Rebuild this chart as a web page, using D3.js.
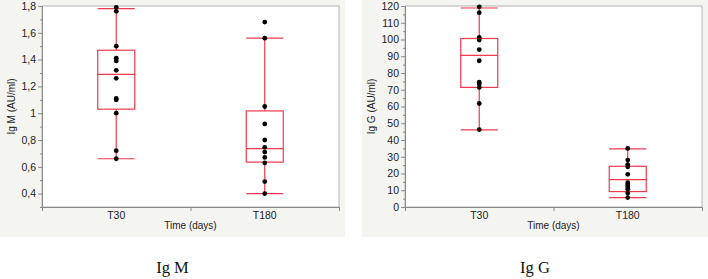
<!DOCTYPE html>
<html>
<head>
<meta charset="utf-8">
<script src="https://cdn.jsdelivr.net/npm/d3@7"></script>
<style>
  body { margin: 0; background: #fff; }
  svg { display: block; }
</style>
</head>
<body>
<svg id="chart" width="708" height="279"></svg>
<script>
// categories on x
const groups = ['T30', 'T180']

// Ig M raw points (AU/ml)
const igmT30 = [1.79, 1.76, 1.50, 1.41, 1.39, 1.32, 1.26, 1.11, 1.10, 1.00, 0.72, 0.66]
const igmT180 = [1.68, 1.56, 1.05, 0.92, 0.80, 0.745, 0.71, 0.67, 0.63, 0.49, 0.40]
// box stats [low whisker, q1, median, q3, high whisker]
const igmBoxT30 = [0.66, 1.03, 1.29, 1.47, 1.78]
const igmBoxT180 = [0.40, 0.635, 0.735, 1.017, 1.56]
const igmTicks = [0.4, 0.6, 0.8, 1, 1.2, 1.4, 1.6, 1.8]
const igmMinor = [0.3, 0.5, 0.7, 0.9, 1.1, 1.3, 1.5, 1.7]

// Ig G raw points (AU/ml)
const iggT30 = [119.5, 116, 101.3, 99.7, 94, 87.3, 74.5, 73.4, 71.4, 61.8, 46.2]
const iggT180 = [35, 28, 25.3, 24, 19.5, 14.5, 13.3, 12, 10.6, 8.3, 5.6]
const iggBoxT30 = [46, 71.4, 90.5, 100.6, 118.8]
const iggBoxT180 = [5.6, 9.2, 16.4, 24.3, 34.7]
const iggTicks = [0, 10, 20, 30, 40, 50, 60, 70, 80, 90, 100, 110, 120]
const iggMinor = [5, 15, 25, 35, 45, 55, 65, 75, 85, 95, 105, 115]

const svg = d3.select('#chart')
const red = '#ee3a4c'
const fmt = d => String(Math.round(d * 10) / 10).replace('.', ',')

function panel(opts) {
    const g = svg.append('g')
    // grey frame
    g.append('rect')
        .attr('x', opts.px).attr('y', 0)
        .attr('width', opts.pw).attr('height', 237)
        .attr('fill', '#f4f4f1')

    const left = opts.px + opts.ml, right = left + 297
    const top = 6, bottom = 207

    const y = d3.scaleLinear().domain(opts.domain).range([bottom, top])
    const x = d3.scaleBand().domain(groups).range([left, right]).padding(0)

    g.append('rect')
        .attr('x', left).attr('y', top)
        .attr('width', right - left).attr('height', bottom - top)
        .attr('fill', '#fff')
        .attr('stroke', '#b4b4b4')

    // y axis
    g.append('g')
        .attr('transform', `translate(${left},0)`)
        .call(d3.axisLeft(y).tickValues(opts.ticks).tickFormat(opts.format).tickSize(4).tickSizeOuter(0).tickPadding(2))
    g.append('g')
        .attr('transform', `translate(${left},0)`)
        .call(d3.axisLeft(y).tickValues(opts.minor).tickFormat('').tickSize(2).tickSizeOuter(0))

    // x axis: boundary ticks, then category labels
    const xb = d3.scaleLinear().domain([0, 2]).range([left, right])
    g.append('g')
        .attr('transform', `translate(0,${bottom})`)
        .call(d3.axisBottom(xb).tickValues([0, 1, 2]).tickFormat('').tickSize(4).tickSizeOuter(0))
    g.append('g')
        .attr('transform', `translate(0,${bottom})`)
        .call(d3.axisBottom(x).tickSize(0).tickPadding(5))
        .call(a => a.select('.domain').remove())

    g.selectAll('.domain, .tick line').attr('stroke', '#8a8a8a')
    g.selectAll('.tick text')
        .attr('fill', '#222')
        .style('font-family', 'Liberation Sans, Arial, sans-serif')
        .style('font-size', '10.5px')

    // axis titles
    g.append('text')
        .attr('transform', `translate(${opts.px + opts.tx},${(top + bottom) / 2}) rotate(-90)`)
        .attr('text-anchor', 'middle')
        .attr('fill', '#222')
        .style('font-family', 'Liberation Sans, Arial, sans-serif')
        .style('font-size', '10px')
        .text(opts.title)
    g.append('text')
        .attr('x', (left + right) / 2).attr('y', 229)
        .attr('text-anchor', 'middle')
        .attr('fill', '#222')
        .style('font-family', 'Liberation Sans, Arial, sans-serif')
        .style('font-size', '10px')
        .text('Time (days)')

    // boxes
    const bw = 37
    groups.forEach((k, i) => {
        const s = opts.boxes[i]
        const cx = x(k) + x.bandwidth() / 2
        const bx = g.append('g')
        bx.append('line')
            .attr('x1', cx).attr('x2', cx)
            .attr('y1', y(s[0])).attr('y2', y(s[4]))
            .attr('stroke', red).attr('stroke-width', 1.2)
        ;[s[0], s[4]].forEach(v => {
            bx.append('line')
                .attr('x1', cx - bw / 2).attr('x2', cx + bw / 2)
                .attr('y1', y(v)).attr('y2', y(v))
                .attr('stroke', red).attr('stroke-width', 1.2)
        })
        bx.append('rect')
            .attr('x', cx - bw / 2).attr('y', y(s[3]))
            .attr('width', bw).attr('height', y(s[1]) - y(s[3]))
            .attr('fill', '#fff')
            .attr('stroke', red).attr('stroke-width', 1.2)
        bx.append('line')
            .attr('x1', cx - bw / 2).attr('x2', cx + bw / 2)
            .attr('y1', y(s[2])).attr('y2', y(s[2]))
            .attr('stroke', red).attr('stroke-width', 1.2)

        g.append('g')
            .selectAll('circle')
            .data(opts.points[i])
            .join('circle')
            .attr('cx', cx)
            .attr('cy', d => y(d))
            .attr('r', 2.4)
            .attr('fill', '#000')
    })

    // caption below
    svg.append('text')
        .attr('x', opts.px + opts.pw / 2).attr('y', 273)
        .attr('text-anchor', 'middle')
        .attr('fill', '#111')
        .style('font-family', 'Liberation Serif, Times New Roman, serif')
        .style('font-size', '16.5px')
        .text(opts.caption)
}

panel({
    px: 0, pw: 345, ml: 42, tx: 15,
    domain: [0.3, 1.8], ticks: igmTicks, minor: igmMinor, format: fmt,
    title: 'Ig M (AU/ml)',
    boxes: [igmBoxT30, igmBoxT180],
    points: [igmT30, igmT180],
    caption: 'Ig M'
})

panel({
    px: 362, pw: 346, ml: 43, tx: 13,
    domain: [0, 120], ticks: iggTicks, minor: iggMinor, format: d3.format('d'),
    title: 'Ig G (AU/ml)',
    boxes: [iggBoxT30, iggBoxT180],
    points: [iggT30, iggT180],
    caption: 'Ig G'
})
</script>
</body>
</html>
